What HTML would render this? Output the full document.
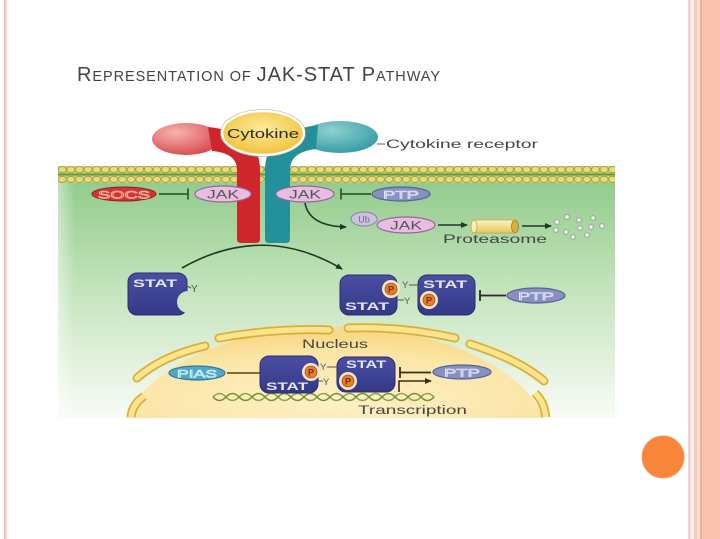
<!DOCTYPE html>
<html><head><meta charset="utf-8">
<style>
html,body{margin:0;padding:0;background:#fff;width:720px;height:539px;overflow:hidden;}
svg{display:block;}
text{font-family:"Liberation Sans",Arial,sans-serif;}
</style></head><body>
<svg width="720" height="539" viewBox="0 0 720 539" xmlns="http://www.w3.org/2000/svg">
<defs>
 <linearGradient id="gbg" x1="0" y1="0" x2="0" y2="1">
   <stop offset="0" stop-color="#92cb8c"/>
   <stop offset="0.5" stop-color="#c8e6c0"/>
   <stop offset="0.85" stop-color="#eaf5e6"/>
   <stop offset="1" stop-color="#f8fcf6"/>
 </linearGradient>
 <linearGradient id="gedge" x1="0" y1="0" x2="1" y2="0">
   <stop offset="0" stop-color="#fff" stop-opacity="0.45"/>
   <stop offset="0.03" stop-color="#fff" stop-opacity="0"/>
   <stop offset="1" stop-color="#fff" stop-opacity="0"/>
 </linearGradient>
 <radialGradient id="gnuc" cx="0.5" cy="0.8" r="0.7">
   <stop offset="0" stop-color="#fef0c6"/>
   <stop offset="0.7" stop-color="#fce6a8"/>
   <stop offset="1" stop-color="#f9da8a"/>
 </radialGradient>
 <radialGradient id="gred" cx="0.35" cy="0.3" r="0.8">
   <stop offset="0" stop-color="#f6b4ae"/>
   <stop offset="1" stop-color="#d64346"/>
 </radialGradient>
 <radialGradient id="gteal" cx="0.4" cy="0.3" r="0.8">
   <stop offset="0" stop-color="#8fd0cf"/>
   <stop offset="1" stop-color="#2b97a0"/>
 </radialGradient>
 <radialGradient id="gcyt" cx="0.5" cy="0.4" r="0.6">
   <stop offset="0" stop-color="#fdeb9c"/>
   <stop offset="1" stop-color="#f1c23a"/>
 </radialGradient>
 <linearGradient id="gprot" x1="0" y1="0" x2="0" y2="1">
   <stop offset="0" stop-color="#fdf4c2"/>
   <stop offset="1" stop-color="#e6c45a"/>
 </linearGradient>
 <linearGradient id="gstat" x1="0" y1="0" x2="0" y2="1">
   <stop offset="0" stop-color="#4a4fa2"/>
   <stop offset="1" stop-color="#343887"/>
 </linearGradient>
 <pattern id="mem" x="58" y="166" width="8.6" height="17" patternUnits="userSpaceOnUse">
   <rect width="8.6" height="17" fill="#b9d27c"/>
   <path d="M0,8.5 L8.6,8.5" stroke="#5f9a3a" stroke-width="2"/>
   <ellipse cx="4.3" cy="3.6" rx="4" ry="3" fill="#efd970" stroke="#8d8a3c" stroke-width="0.6"/>
   <ellipse cx="4.3" cy="13.4" rx="4" ry="3" fill="#efd970" stroke="#8d8a3c" stroke-width="0.6"/>
 </pattern>
 <mask id="monomask">
   <rect x="0" y="0" width="720" height="539" fill="#fff"/>
   <circle cx="188" cy="302" r="11" fill="#000"/>
 </mask>
 <marker id="ah" markerWidth="9" markerHeight="9" refX="6" refY="4" orient="auto" markerUnits="userSpaceOnUse">
   <path d="M0,1 L7,4 L0,7 Z" fill="#1e3a26"/>
 </marker>
 <marker id="ah2" markerWidth="9" markerHeight="9" refX="6" refY="4" orient="auto" markerUnits="userSpaceOnUse">
   <path d="M0,1 L7,4 L0,7 Z" fill="#3a2f1a"/>
 </marker>
</defs>

<!-- slide borders -->
<rect x="4" y="0" width="2.5" height="539" fill="#f0c2b8"/>
<rect x="688" y="0" width="2.5" height="539" fill="#f3cfcf"/>
<rect x="690.5" y="0" width="3.5" height="539" fill="#fbeeee"/>
<rect x="694" y="0" width="3" height="539" fill="#f8c8b8"/>
<rect x="697" y="0" width="3" height="539" fill="#fde4da"/>
<rect x="700" y="0" width="20" height="539" fill="#fbc3ae"/>
<rect x="700" y="0" width="2" height="539" fill="#f0b09c"/>

<!-- title -->
<text x="77" y="81" fill="#434343" textLength="363" lengthAdjust="spacing"><tspan font-size="20">R</tspan><tspan font-size="14.5">EPRESENTATION OF </tspan><tspan font-size="20">JAK-STAT P</tspan><tspan font-size="14.5">ATHWAY</tspan></text>

<!-- orange circle -->
<circle cx="663" cy="457" r="21" fill="#f7853a" stroke="#f39a60" stroke-width="1"/>

<!-- green cytoplasm -->
<rect x="58" y="180" width="557" height="238" fill="url(#gbg)"/>
<rect x="58" y="180" width="557" height="238" fill="url(#gedge)"/>

<!-- nucleus -->
<path d="M125.4,418 A216,120 0 0 1 544.6,418 Z" fill="url(#gnuc)"/>
<g fill="none" stroke-linecap="butt">
 <g stroke="#dcae38" stroke-width="9" stroke-linecap="round">
  <path d="M219,338 Q275,328 329,330"/>
  <path d="M348,328 Q402,326 455,338"/>
  <path d="M470,344 Q520,360 544,381"/>
  <path d="M205,346 Q162,356 137,378"/>
 </g>
 <g stroke="#dcae38" stroke-width="9">
  <path d="M535,393 Q545,403 545.5,417"/>
  <path d="M144,396 Q132,405 131,417"/>
 </g>
 <g stroke="#fde48e" stroke-width="5.5" stroke-linecap="round">
  <path d="M219,338 Q275,328 329,330"/>
  <path d="M348,328 Q402,326 455,338"/>
  <path d="M470,344 Q520,360 544,381"/>
  <path d="M205,346 Q162,356 137,378"/>
 </g>
 <g stroke="#fde48e" stroke-width="5.5">
  <path d="M535,393 Q545,403 545.5,417"/>
  <path d="M144,396 Q132,405 131,417"/>
 </g>
</g>

<!-- membrane -->
<rect x="58" y="166" width="557" height="17" fill="url(#mem)"/>

<!-- receptors -->
<ellipse cx="186" cy="139" rx="34" ry="16" fill="url(#gred)"/>
<path d="M237,239 L237,170 Q237,153 212,151 L208,127 Q260,132 260,170 L260,239 Q260,243 256,243 L241,243 Q237,243 237,239 Z" fill="#cf262d"/>
<ellipse cx="340" cy="137" rx="38" ry="16" fill="url(#gteal)"/>
<path d="M290,239 L290,170 Q290,152 316,149 L318,125 Q265,132 265,170 L265,239 Q265,243 269,243 L286,243 Q290,243 290,239 Z" fill="#23909a"/>
<ellipse cx="263" cy="133" rx="41" ry="22" fill="url(#gcyt)" stroke="#fff" stroke-width="2.5"/>
<ellipse cx="263" cy="133" rx="42.5" ry="23.5" fill="none" stroke="#b9a880" stroke-width="0.6"/>
<text x="263" y="138" font-size="12.5" text-anchor="middle" fill="#2a2a2a" textLength="72" lengthAdjust="spacingAndGlyphs">Cytokine</text>

<path d="M377,144 L385,144" stroke="#666" stroke-width="1"/>
<text x="386" y="148" font-size="11.5" fill="#454545" textLength="152" lengthAdjust="spacingAndGlyphs">Cytokine receptor</text>

<!-- SOCS / JAK / PTP row -->
<ellipse cx="124" cy="194" rx="32" ry="7" fill="#d2352f" stroke="#9b1f1a" stroke-width="1"/>
<text x="124" y="198.5" font-size="11" text-anchor="middle" fill="#c93a36" stroke="#f7b8ae" stroke-width="0.7" textLength="52" lengthAdjust="spacingAndGlyphs">SOCS</text>
<path d="M159,194 L188,194 M188,188.5 L188,199.5" stroke="#2e5e35" stroke-width="1.8" fill="none"/>

<ellipse cx="223" cy="194" rx="28" ry="8" fill="#e8bde1" stroke="#94679a" stroke-width="1.2"/>
<text x="223" y="198.5" font-size="11.5" text-anchor="middle" fill="#555" textLength="32" lengthAdjust="spacingAndGlyphs">JAK</text>
<ellipse cx="305" cy="194" rx="29" ry="8" fill="#e8bde1" stroke="#94679a" stroke-width="1.2"/>
<text x="305" y="198.5" font-size="11.5" text-anchor="middle" fill="#555" textLength="32" lengthAdjust="spacingAndGlyphs">JAK</text>
<path d="M341,188.5 L341,199.5 M341,194 L371,194" stroke="#2e5e35" stroke-width="1.8" fill="none"/>
<ellipse cx="401" cy="194" rx="29" ry="7" fill="#8890c2" stroke="#58609a" stroke-width="1.2"/>
<text x="401" y="198.5" font-size="11" text-anchor="middle" fill="#a4addb" stroke="#e6e9fb" stroke-width="0.6" textLength="36" lengthAdjust="spacingAndGlyphs">PTP</text>

<!-- degradation -->
<path d="M305,203 Q309,226 346,227" fill="none" stroke="#1e3a26" stroke-width="1.6" marker-end="url(#ah)"/>
<ellipse cx="364" cy="219" rx="13" ry="7" fill="#c9c1de" stroke="#8a80aa" stroke-width="1"/>
<text x="364" y="222.5" font-size="9" text-anchor="middle" fill="#6d6690">Ub</text>
<ellipse cx="406" cy="225" rx="29" ry="8" fill="#e8bde1" stroke="#94679a" stroke-width="1.2"/>
<text x="406" y="229.5" font-size="11.5" text-anchor="middle" fill="#555" textLength="32" lengthAdjust="spacingAndGlyphs">JAK</text>
<path d="M438,225 L467,225" stroke="#1e3a26" stroke-width="1.6" marker-end="url(#ah)"/>
<rect x="474" y="220" width="41" height="13" fill="url(#gprot)"/>
<ellipse cx="474" cy="226.5" rx="3" ry="6.5" fill="#fbeeb0" stroke="#c9a640" stroke-width="0.8"/>
<ellipse cx="515" cy="226.5" rx="3.5" ry="6.5" fill="#d9b040" stroke="#a07f20" stroke-width="0.8"/>
<path d="M474,220 L515,220 M474,233 L515,233" stroke="#c9a640" stroke-width="0.8"/>
<text x="443" y="243" font-size="11.5" fill="#454545" textLength="104" lengthAdjust="spacingAndGlyphs">Proteasome</text>
<path d="M522,226 L551,226" stroke="#1e3a26" stroke-width="1.6" marker-end="url(#ah)"/>
<g fill="#f4f7f2" stroke="#9a9a9a" stroke-width="0.9">
 <circle cx="557" cy="222" r="2.3"/><circle cx="567" cy="217" r="2.3"/><circle cx="579" cy="220" r="2.3"/>
 <circle cx="593" cy="218" r="2.3"/><circle cx="556" cy="230" r="2.3"/><circle cx="566" cy="232" r="2.3"/>
 <circle cx="580" cy="228" r="2.3"/><circle cx="591" cy="227" r="2.3"/><circle cx="602" cy="226" r="2.3"/>
 <circle cx="573" cy="237" r="2.3"/><circle cx="587" cy="235" r="2.3"/>
</g>

<!-- big arc -->
<path d="M182,268 Q263,222 342,269" fill="none" stroke="#1e3a26" stroke-width="1.6" marker-end="url(#ah)"/>

<!-- STAT monomer -->
<rect x="128" y="273" width="59" height="42" rx="9" fill="url(#gstat)" stroke="#2b2d6e" stroke-width="1" mask="url(#monomask)"/>
<text x="133" y="287" font-size="11" font-weight="bold" fill="#e4e6f4" textLength="44" lengthAdjust="spacingAndGlyphs">STAT</text>
<path d="M187,286 L191,288" stroke="#555" stroke-width="1"/>
<text x="191" y="292" font-size="10" fill="#555">Y</text>

<!-- STAT dimer (cytoplasm) -->
<rect x="340" y="275" width="57" height="40" rx="9" fill="url(#gstat)" stroke="#2b2d6e" stroke-width="1"/>
<rect x="418" y="275" width="57" height="40" rx="9" fill="url(#gstat)" stroke="#2b2d6e" stroke-width="1"/>
<circle cx="391" cy="289" r="9" fill="#f5e7c6"/>
<circle cx="429" cy="300" r="9" fill="#f5e7c6"/>
<circle cx="391" cy="289" r="6" fill="#e97c2a" stroke="#a8520f" stroke-width="0.8"/>
<circle cx="429" cy="300" r="6" fill="#e97c2a" stroke="#a8520f" stroke-width="0.8"/>
<text x="391" y="292.5" font-size="9" font-weight="bold" text-anchor="middle" fill="#6e3210">P</text>
<text x="429" y="303.5" font-size="9" font-weight="bold" text-anchor="middle" fill="#6e3210">P</text>
<text x="402" y="288" font-size="9.5" fill="#555">Y</text>
<path d="M409,285 L418,285" stroke="#555" stroke-width="1"/>
<path d="M397,300 L404,300" stroke="#555" stroke-width="1"/>
<text x="404" y="304" font-size="9.5" fill="#555">Y</text>
<text x="423" y="288" font-size="11" font-weight="bold" fill="#e4e6f4" textLength="44" lengthAdjust="spacingAndGlyphs">STAT</text>
<text x="345" y="310" font-size="11" font-weight="bold" fill="#e4e6f4" textLength="44" lengthAdjust="spacingAndGlyphs">STAT</text>
<path d="M480,290 L480,301 M480,295.5 L506,295.5" stroke="#2a2a2a" stroke-width="1.8" fill="none"/>
<ellipse cx="536" cy="295.5" rx="29" ry="7.5" fill="#8890c2" stroke="#58609a" stroke-width="1.2"/>
<text x="536" y="300" font-size="11" text-anchor="middle" fill="#a4addb" stroke="#e6e9fb" stroke-width="0.6" textLength="36" lengthAdjust="spacingAndGlyphs">PTP</text>

<!-- nucleus content -->
<text x="302" y="348" font-size="11.5" fill="#454545" textLength="66" lengthAdjust="spacingAndGlyphs">Nucleus</text>

<ellipse cx="197" cy="373" rx="28" ry="7" fill="#4fa8c9" stroke="#2e7d9a" stroke-width="1.2"/>
<text x="197" y="377.5" font-size="11" text-anchor="middle" fill="#71c3dc" stroke="#e3f5fb" stroke-width="0.6" textLength="40" lengthAdjust="spacingAndGlyphs">PIAS</text>
<path d="M227,373 L262,373 M262,367.5 L262,378.5" stroke="#6e5a24" stroke-width="1.8" fill="none"/>

<!-- DNA -->
<g fill="none" stroke-width="1.6">
 <path d="M213,397 Q219.5,390 226,397 T239,397 T252,397 T265,397 T278,397 T291,397 T304,397 T317,397 T330,397 T343,397 T356,397 T369,397 T382,397 T395,397 T408,397 T421,397 T434,397" stroke="#86a84a"/>
 <path d="M213,397 Q219.5,404 226,397 T239,397 T252,397 T265,397 T278,397 T291,397 T304,397 T317,397 T330,397 T343,397 T356,397 T369,397 T382,397 T395,397 T408,397 T421,397 T434,397" stroke="#6f9236"/>
</g>

<!-- nuclear dimer -->
<rect x="260" y="356" width="58" height="37" rx="9" fill="url(#gstat)" stroke="#2b2d6e" stroke-width="1"/>
<rect x="337" y="357" width="58" height="35" rx="9" fill="url(#gstat)" stroke="#2b2d6e" stroke-width="1"/>
<circle cx="311" cy="372" r="9" fill="#f5e7c6"/>
<circle cx="348" cy="381" r="9" fill="#f5e7c6"/>
<circle cx="311" cy="372" r="6" fill="#e97c2a" stroke="#a8520f" stroke-width="0.8"/>
<circle cx="348" cy="381" r="6" fill="#e97c2a" stroke="#a8520f" stroke-width="0.8"/>
<text x="311" y="375.5" font-size="9" font-weight="bold" text-anchor="middle" fill="#6e3210">P</text>
<text x="348" y="384.5" font-size="9" font-weight="bold" text-anchor="middle" fill="#6e3210">P</text>
<text x="320" y="370" font-size="9.5" fill="#555">Y</text>
<path d="M327,367 L337,367" stroke="#555" stroke-width="1"/>
<path d="M318,381 L323,381" stroke="#555" stroke-width="1"/>
<text x="323" y="385" font-size="9.5" fill="#555">Y</text>
<text x="346" y="368" font-size="11" font-weight="bold" fill="#e4e6f4" textLength="40" lengthAdjust="spacingAndGlyphs">STAT</text>
<text x="266" y="390" font-size="11" font-weight="bold" fill="#e4e6f4" textLength="42" lengthAdjust="spacingAndGlyphs">STAT</text>

<path d="M400,367 L400,378 M400,372.5 L431,372.5" stroke="#3a2f1a" stroke-width="1.8" fill="none"/>
<ellipse cx="462" cy="372" rx="29" ry="7" fill="#8890c2" stroke="#58609a" stroke-width="1.2"/>
<text x="462" y="376.5" font-size="11" text-anchor="middle" fill="#a4addb" stroke="#e6e9fb" stroke-width="0.6" textLength="36" lengthAdjust="spacingAndGlyphs">PTP</text>
<path d="M399,392 L399,381 L431,381" fill="none" stroke="#3a2f1a" stroke-width="1.6" marker-end="url(#ah2)"/>
<text x="358" y="414" font-size="11.5" fill="#454545" textLength="109" lengthAdjust="spacingAndGlyphs">Transcription</text>
</svg>
</body></html>
